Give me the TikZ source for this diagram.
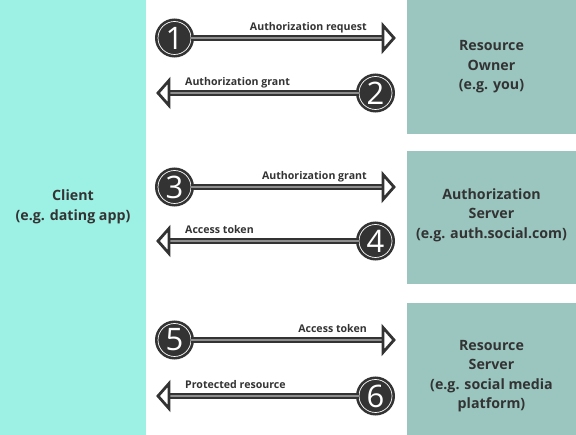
\documentclass[tikz,border=0pt]{standalone}
\usepackage{fontspec}
\setmainfont{Open Sans}
\definecolor{dark}{HTML}{333333}
\definecolor{clientc}{HTML}{9CF0E4}
\definecolor{serverc}{HTML}{9AC6BF}
\definecolor{midline}{HTML}{8E8E8E}
\begin{document}
\begin{tikzpicture}[x=1pt,y=-1pt,
  boxtext/.style={font=\bfseries\fontsize{14.2}{19.5}\selectfont, text=dark, align=center},
  lbl/.style={font=\bfseries\fontsize{10.6}{12}\selectfont, text=dark, inner sep=0pt},
  num/.style={circle, fill=dark, draw=white, line width=0.7pt, minimum size=33pt, inner sep=0pt,
    preaction={draw=dark, line width=6pt},
    text=white, font=\fontsize{31}{31}\selectfont},
  shaft/.style={draw=dark, line width=2.8pt, double=midline, double distance=1.2pt},
  head/.style={draw=dark, fill=white, line width=2.8pt, line join=miter}
]
\useasboundingbox (0,0) rectangle (576,435);
% boxes
\fill[clientc] (0,0) rectangle (146,435);
\node[boxtext] (client) at (73,207) {Client\\(e.g. dating app)};
\fill[serverc] (407,0) rectangle (576,134);
\fill[serverc] (407,151) rectangle (576,284);
\fill[serverc] (407,303) rectangle (576,435);
\node[boxtext] (owner) at (491.5,67) {Resource\\Owner\\(e.g. you)};
\node[boxtext] (auth) at (491.5,215) {Authorization\\Server\\(e.g. auth.social.com)};
\node[boxtext] (res) at (491.5,376) {Resource\\Server\\(e.g. social media\\platform)};

% rightward arrows
\foreach \i/\y/\t in {1/38/Authorization request, 3/187/Authorization grant, 5/340/Access token}{
  \node[num] (c\i) at (174.5,\y) {\i};
  \coordinate (b\i) at (383,\y);
  \coordinate (t\i) at (394,\y);
  \draw[shaft] (c\i.east) -- (b\i);
  \draw[head] (t\i) -- ([yshift=-12.5]b\i) -- ([yshift=12.5]b\i) -- cycle;
  \node[lbl, anchor=base east] (l\i) at (367,\y-7) {\t};
}
% leftward arrows
\foreach \i/\y/\t in {2/93/Authorization grant, 4/241/Access token, 6/396/Protected resource}{
  \node[num] (c\i) at (375.5,\y) {\i};
  \coordinate (b\i) at (169,\y);
  \coordinate (t\i) at (158,\y);
  \draw[shaft] (c\i.west) -- (b\i);
  \draw[head] (t\i) -- ([yshift=-12.5]b\i) -- ([yshift=12.5]b\i) -- cycle;
  \node[lbl, anchor=base west] (l\i) at (185,\y-7) {\t};
}
\end{tikzpicture}
\end{document}
